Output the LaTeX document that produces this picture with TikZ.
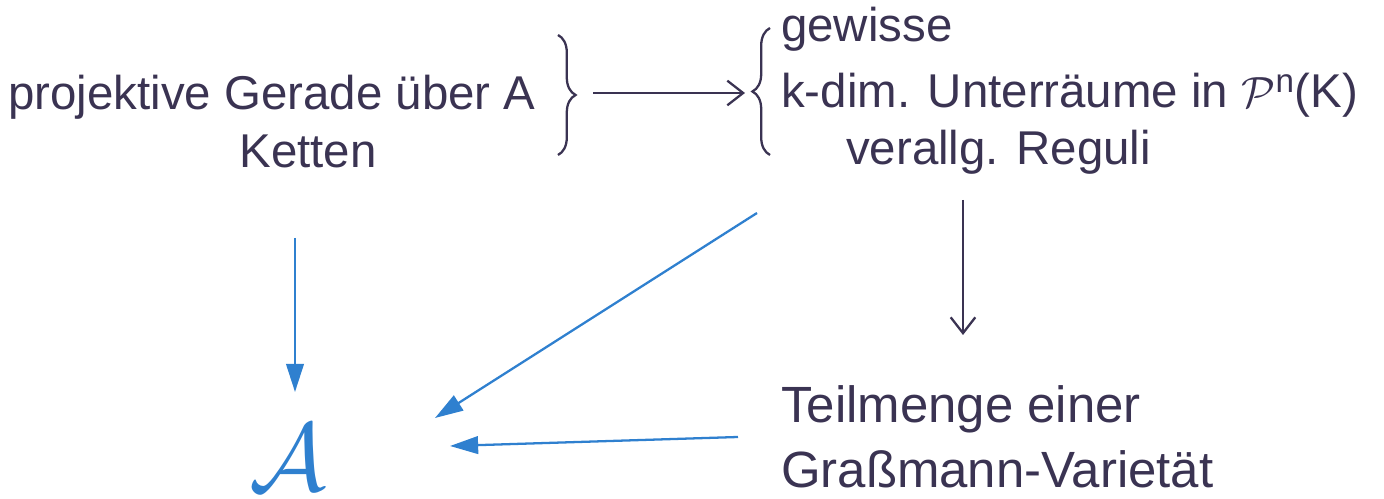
\documentclass[tikz,border=0pt]{standalone}
\usepackage{fontspec}
\setmainfont{Liberation Sans}
\usetikzlibrary{arrows.meta,decorations.pathreplacing}
\definecolor{ink}{HTML}{3A3352}
\definecolor{bluepen}{HTML}{2F80CF}
\tikzset{
  bracket/.style={draw=ink,decorate,decoration={brace,amplitude=10pt}},
  darkarrow/.style={draw=ink,-{Straight Barb[length=9pt,width=14pt]}},
  bluearrow/.style={draw=bluepen,line width=1.3pt,-{Triangle[length=16pt,width=10pt]}},
}
\begin{document}
\begin{tikzpicture}[x=0.02cm,y=-0.02cm,font=\fontsize{27}{32}\selectfont,text=ink,inner sep=0pt,line width=1.3pt]
  \useasboundingbox (0,0) rectangle (1384,499);
  % left group
  \node[anchor=base] (gerade) at (272,110) {projektive Gerade über A};
  \node[anchor=base] (ketten) at (308,168) {Ketten};
  \draw[bracket] (558,35) -- (558,155);
  \coordinate (rtip) at (593,93);
  % right group
  \node[anchor=base west] (gewisse) at (780,42) {gewisse};
  \node[anchor=base west] (unterr) at (780,108) {k-dim. Unterräume in $\mathcal{P}$\textsuperscript{n}(K)};
  \node[anchor=base west] (reguli) at (845,165) {verallg. Reguli};
  \draw[bracket] (770,155) -- (770,28);
  \coordinate (ltip) at (745,93);
  \draw[darkarrow] (rtip) -- (ltip);
  % bottom
  \node[anchor=base west,font=\fontsize{29}{34}\selectfont] (teil) at (780,423) {Teilmenge einer};
  \node[anchor=base west,font=\fontsize{29}{34}\selectfont] (grass) at (780,488) {Graßmann-Varietät};
  \node[text=bluepen] (A) at (288,458) {\scalebox{2.2}{$\mathcal{A}$}};
  \coordinate (regout) at (963,200);
  \coordinate (teilin) at (963,335);
  \draw[darkarrow] (regout) -- (teilin);
  % blue arrows into A
  \coordinate (kettenout) at (295,238);
  \coordinate (Atop) at (295,392);
  \coordinate (diagout) at (757,213);
  \coordinate (Adiag) at (435,418);
  \coordinate (teilout) at (738,437);
  \coordinate (Aright) at (450,446);
  \draw[bluearrow] (kettenout) -- (Atop);
  \draw[bluearrow] (diagout) -- (Adiag);
  \draw[bluearrow] (teilout) -- (Aright);
\end{tikzpicture}
\end{document}
